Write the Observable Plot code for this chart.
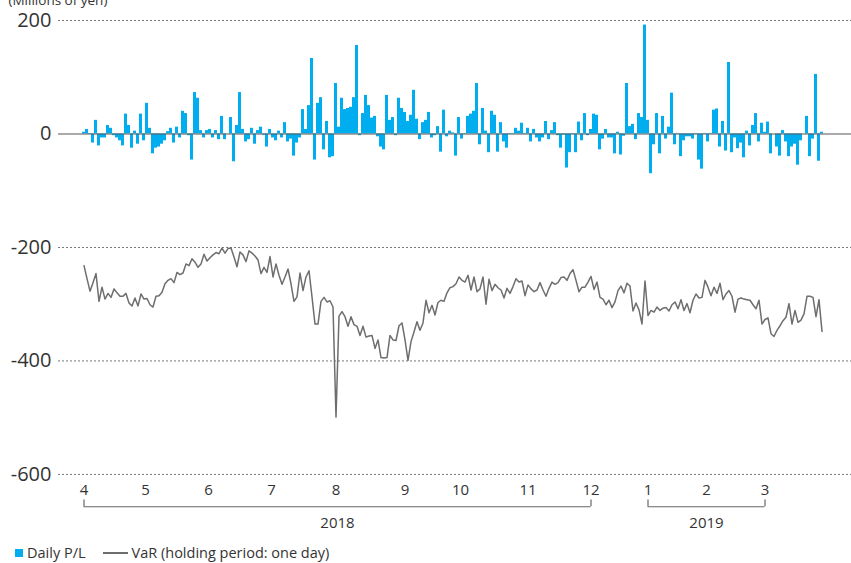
<!DOCTYPE html>
<html>
<head>
<meta charset="utf-8">
<script src="https://cdn.jsdelivr.net/npm/d3@7"></script>
<script src="https://cdn.jsdelivr.net/npm/@observablehq/plot@0.6"></script>
<style>
  html, body { margin: 0; padding: 0; background: #fff; overflow: hidden; }
  body { font-family: "Open Sans", "Noto Sans", sans-serif; }
  #legend { height: 21px; display: flex; align-items: center; font-size: 14.5px; color: #333; }
  #legend .sw { display: inline-block; width: 8px; height: 8px; margin-left: 15px; margin-right: 4px; }
  #legend .ln { display: inline-block; width: 25px; height: 2px; margin-left: 17px; margin-right: 4px; }
</style>
</head>
<body>
<div id="chart"></div>
<div id="legend"></div>
<script>
// Daily P/L (millions of yen), one value per trading day, Apr 2018 - Mar 2019
const dailyPL = [3, 8, -1, -16, 24, -21, -7, -7, 15, 10,
-3, -7, -12, -21, 35, 15, -25, 5, -18, 35,
-12, 54, 10, -35, -25, -23, -18, -12, 4, 10,
-16, 12, -7, 40, 36, -3, -46, 73, 63, 6,
-7, 6, 8, -7, 6, -10, 31, -10, 0, 29,
-49, 15, 73, 8, -14, -10, 10, -18, 6, 12,
-2, -23, 8, -7, -12, 5, -7, 20, -14, -9,
-39, -16, -7, 43, 8, 50, 133, -46, 54, 64,
-28, 22, -42, -40, 89, 12, 63, 43, 45, 47,
64, 156, -3, 36, 68, 50, 28, 31, -5, -23,
-28, 68, 24, 29, -3, 63, 45, 38, 22, 33,
77, 26, -10, 20, 24, 38, -7, -3, 13, -32,
42, -5, 5, 2, -39, 29, -9, -1, 31, 35,
40, 89, -19, 45, 5, -33, 40, 33, -32, 20,
-14, -25, -1, 1, 10, 5, 19, 1, 10, -14,
8, -7, -14, -7, 22, -10, 6, 20, -3, -25,
-2, -60, -33, -1, -33, 21, -12, 36, -3, 8,
35, 33, -28, -9, 8, -7, -7, -35, 3, -37,
-4, 89, 13, 17, -10, 36, 29, 192, 24, -70,
-19, 36, -35, 31, -9, 12, 72, -19, 1, -40,
-12, -5, -5, -9, 1, -46, -62, 1, -14, 1,
42, 44, -23, 22, -30, 126, -33, -7, -26, -16,
-42, 5, -21, 15, 36, -14, 19, 3, 21, -35,
0, -23, -39, 6, -14, -40, -23, -18, -55, -12,
0, 31, -40, -9, 105, -48, 3];

// VaR (holding period: one day), one value per trading day
const varValues = [-232, -255, -277, -262, -246, -295, -270, -291, -281, -288,
-273, -280, -286, -286, -281, -298, -303, -289, -303, -282,
-291, -290, -301, -305, -286, -285, -279, -264, -258, -255,
-262, -244, -248, -245, -229, -232, -220, -226, -235, -229,
-212, -224, -218, -213, -209, -211, -201, -210, -202, -201,
-217, -234, -208, -213, -225, -206, -210, -215, -222, -246,
-235, -244, -216, -252, -229, -249, -265, -252, -238, -264,
-295, -287, -245, -276, -252, -241, -287, -335, -335, -295,
-288, -296, -294, -305, -499, -321, -313, -322, -339, -322,
-336, -339, -355, -339, -358, -356, -355, -378, -363, -394,
-395, -394, -355, -363, -364, -338, -333, -363, -399, -366,
-349, -331, -346, -333, -293, -315, -302, -319, -297, -293,
-295, -280, -271, -269, -264, -252, -258, -261, -249, -275,
-252, -278, -273, -252, -300, -256, -276, -265, -271, -275,
-289, -272, -281, -269, -255, -261, -259, -285, -266, -273,
-278, -275, -262, -275, -286, -272, -261, -265, -262, -253,
-252, -258, -246, -239, -258, -278, -270, -270, -261, -251,
-274, -261, -288, -291, -301, -293, -306, -296, -276, -268,
-280, -263, -268, -312, -298, -310, -335, -259, -320, -311,
-314, -305, -311, -307, -306, -312, -301, -296, -308, -292,
-311, -299, -315, -293, -282, -289, -288, -258, -270, -285,
-270, -281, -263, -292, -282, -276, -286, -314, -291, -289,
-291, -292, -293, -301, -308, -293, -335, -327, -324, -352,
-357, -346, -338, -329, -323, -299, -335, -311, -332, -328,
-317, -286, -286, -288, -322, -292, -348];

// Month tick labels and the trading-day index where each sits
const monthLabels = ["4", "5", "6", "7", "8", "9", "10", "11", "12", "1", "2", "3"];
const monthDays   = [1, 21.5, 42.5, 63.5, 85, 108, 126.5, 149, 170, 189, 208.5, 228];

// Year brackets (trading-day index spans)
const yearLabels = ["2018", "2019"];
const yearStart  = [1, 189];
const yearEnd    = [170, 228];

// Y axis ticks
const yTicks = [200, 0, -200, -400, -600];
const gridTicks = [200, -200, -400, -600];

const seriesNames = ["Daily P/L", "VaR (holding period: one day)"];
const plColor = "#00aeef";
const varColor = "#6e6e6e";

const plData = dailyPL.map((v, i) => ({day: i + 1, pl: v}));
const varData = varValues.map((v, i) => ({day: i + 1, value: v}));
const months = monthLabels.map((l, i) => ({label: l, day: monthDays[i]}));
const years = yearLabels.map((l, i) => ({label: l, start: yearStart[i], end: yearEnd[i], mid: (yearStart[i] + yearEnd[i]) / 2}));
const bracketEnds = years.flatMap(d => [{day: d.start}, {day: d.end}]);

const W = 851, H = 542, ML = 58;
const xPerDay = 3;
const x0 = 0.5 - (82 - ML) / xPerDay;

const chart = Plot.plot({
  width: W,
  height: H,
  marginLeft: ML,
  marginRight: 0,
  marginTop: 20,
  marginBottom: 0,
  style: {fontFamily: "'Open Sans', 'Noto Sans', sans-serif", fontSize: "20px", background: "#fff", color: "#333"},
  x: {domain: [x0, x0 + (W - ML) / xPerDay], axis: null},
  y: {domain: [-720, 200], ticks: yTicks, tickSize: 0, tickPadding: 7, tickFormat: d => String(d), label: null},
  marks: [
    Plot.ruleY(gridTicks, {stroke: "#777", strokeWidth: 1, strokeDasharray: "2,2"}),
    Plot.rectY(plData, {x1: d => d.day - 0.5, x2: d => d.day + 0.5, y1: 0, y2: "pl", fill: plColor, inset: 0}),
    Plot.ruleY([0], {stroke: "#555", strokeOpacity: 0.5, strokeWidth: 2}),
    Plot.line(varData, {x: "day", y: "value", stroke: varColor, strokeWidth: 1.5}),
    Plot.text(months, {x: "day", y: -628, text: "label", fontSize: 15, fill: "#333"}),
    Plot.ruleY(years, {x1: "start", x2: "end", y: -657, stroke: "#666", strokeWidth: 1.2}),
    Plot.ruleX(bracketEnds, {x: "day", y1: -645, y2: -657, stroke: "#666", strokeWidth: 1.2}),
    Plot.text(years, {x: "mid", y: -686, text: "label", fontSize: 15, fill: "#333"}),
    Plot.text(["(Millions of yen)"], {frameAnchor: "top-left", dx: -50, dy: -25.5, textAnchor: "start", fontSize: 13.5, fill: "#333"})
  ]
});
document.getElementById("chart").appendChild(chart);

const legend = document.getElementById("legend");
legend.innerHTML =
  `<span class="sw" style="background:${plColor}"></span><span>${seriesNames[0]}</span>` +
  `<span class="ln" style="background:${varColor}"></span><span>${seriesNames[1]}</span>`;
</script>
</body>
</html>
